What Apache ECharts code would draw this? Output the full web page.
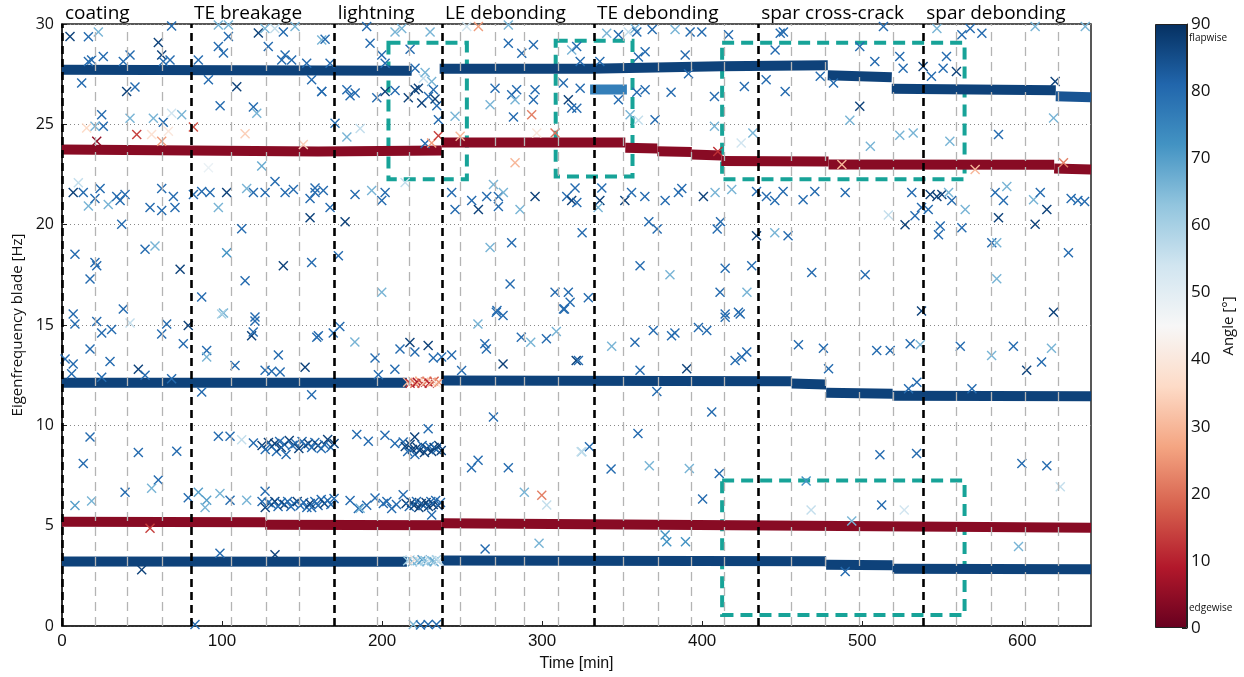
<!DOCTYPE html>
<html>
<head>
<meta charset="utf-8">
<script src="https://cdn.jsdelivr.net/npm/echarts@6/dist/echarts.min.js"></script>
<style>html,body{margin:0;padding:0;background:#fff;}#chart{width:1244px;height:677px;}</style>
</head>
<body>
<div id="chart"></div>
<script>
// ---------------- DATA ----------------
const eventTimes = [0, 80.6, 170.4, 237.4, 332.5, 435, 538.2];
const eventNames = ['coating', 'TE breakage', 'lightning', 'LE debonding', 'TE debonding', 'spar cross-crack', 'spar debonding'];
const gridTimes = [20.6, 41, 62.5, 106, 127.5, 148, 197, 217, 249, 270.6, 289, 310, 351, 372.5, 393.5, 414, 456, 477, 498, 519.5, 559, 580.6, 602, 622.5];
// highlighted boxes: [t0, f0, t1, f1]
const boxes = [[204, 22.26, 253, 29.06], [308.5, 22.4, 356.5, 29.16], [412.5, 22.26, 564, 29.06], [412.5, 0.55, 564, 7.25]];
const colorTicks = [0, 10, 20, 30, 40, 50, 60, 70, 80, 90];

// dense mode tracks: [angle, [[time, freq], ...]]
const bandFlap2 = [
  [87, [[0, 27.72], [218.5, 27.67]]],
  [87, [[236, 27.77], [330, 27.77], [412, 27.9], [478.5, 27.95]]],
  [87, [[478.5, 27.45], [518.5, 27.35]]],
  [87, [[518.5, 26.77], [621, 26.7]]],
  [84, [[621, 26.4], [643, 26.35]]],
  [76, [[330, 26.73], [353, 26.73]]]
];
const bandEdge2 = [
  [4, [[0, 23.75], [160, 23.65], [237.3, 23.7]]],
  [4, [[237.3, 24.1], [352, 24.1]]],
  [4, [[352, 23.83], [372, 23.8]]],
  [4, [[372, 23.66], [393.5, 23.62]]],
  [4, [[393.5, 23.5], [412, 23.45]]],
  [4, [[412, 23.17], [479, 23.15]]],
  [4, [[479, 23.0], [620, 22.98]]],
  [4, [[620, 22.8], [643, 22.75]]]
];
const bandFlap1b = [
  [87, [[0, 12.12], [215.5, 12.12]]],
  [87, [[237.3, 12.24], [456, 12.2]]],
  [87, [[456, 12.08], [477.5, 12.03]]],
  [87, [[477.5, 11.62], [519, 11.57]]],
  [87, [[519, 11.48], [643, 11.45]]]
];
const bandEdge1 = [
  [4, [[0, 5.2], [127, 5.17]]],
  [4, [[127, 5.05], [237.3, 5.02]]],
  [4, [[237.3, 5.12], [420, 5.02], [643, 4.9]]]
];
const bandFlap1 = [
  [87, [[0, 3.21], [215.5, 3.2]]],
  [87, [[237.3, 3.26], [477.5, 3.23]]],
  [87, [[477.5, 3.05], [519, 3.03]]],
  [87, [[519, 2.85], [643, 2.83]]]
];

// individual detections: [time, freq, angle]
const points = [
[5,29.38,87],[16.5,29.36,80],[22.7,29.6,66],[68.5,29.9,80],[60.2,29.08,87],[42.5,28.46,80],[25.8,28.38,80],[16.5,28.13,80],[18.5,28.2,80],[38.3,28.13,80],[62.3,28.46,87],[63.3,28.13,80],[67.5,28.2,80],[12.3,27.06,80],[40.4,26.64,87],[45.6,26.86,80],[24.8,25.48,80],[25.8,24.9,80],[20.6,24.9,66],[42.5,25.3,66],[57.1,25.3,66],[63.3,25.1,80],[68.5,25.55,54],[74.8,25.48,66],[15.4,24.82,36],[46.7,24.49,14],[56,24.49,38],[62.3,24.16,26],[66.5,24.65,40],[21.7,24.16,5],[82.1,24.87,16],[114.4,24.53,34],[150.8,24.0,34],[124.8,22.92,68],[91.5,22.84,48],[85.2,28.2,80],[97.7,28.88,80],[104,29.38,80],[100.9,28.55,80],[97.7,29.95,66],[104,29.95,66],[122.7,29.55,87],[126.8,29.78,66],[133,29.78,56],[138.3,29.6,80],[145.6,29.87,66],[128.9,28.88,80],[139.4,28.46,80],[137.3,28.2,80],[143.5,28.2,80],[152.9,28.05,80],[162.3,29.2,66],[109.2,26.87,87],[91.5,27.22,80],[156,27.22,80],[162.3,26.64,80],[98.8,25.93,80],[119.6,25.87,80],[121.7,25.55,66],
[10.2,22.09,56],[7,21.6,87],[13.3,21.6,80],[16.5,20.93,66],[20.6,21.3,80],[23.8,21.8,80],[28.9,21.0,66],[34.2,21.4,80],[36.3,21.2,80],[39.4,21.5,80],[62.3,21.8,80],[69.6,21.4,80],[70.6,20.85,80],[55,20.85,80],[62.3,20.7,80],[37.3,20.02,80],[8.1,18.53,80],[20.6,18.12,80],[21.7,17.95,80],[17.5,17.29,80],[51.9,18.78,80],[58.1,18.94,66],[73.8,17.78,87],[38.3,15.8,80],[7,15.55,80],[82.1,21.5,80],[87.3,21.65,80],[92.5,21.6,80],[97.7,20.85,66],[102.9,21.6,87],[115.4,21.8,66],[119.6,21.6,80],[126.9,21.6,80],[133.1,22.15,80],[139.4,21.6,80],[144.6,21.75,80],[155,21.3,80],[158.1,21.6,80],[155,20.35,87],[112.3,19.8,80],[102.9,18.6,72],[138.3,17.95,87],[156,18.12,80],[114.4,17.2,80],[87.3,16.4,80],[100.9,15.6,66],[120.6,15.4,80],
[8.1,15.05,80],[21.7,15.17,80],[24.8,14.6,80],[31,14.77,80],[42.5,15.1,56],[62.3,14.55,80],[65.4,15.05,80],[78.9,14.97,87],[75.8,14.06,80],[17.5,13.8,80],[1.9,13.3,80],[7,13.06,80],[6,12.57,80],[30,13.18,80],[24.8,12.4,80],[47.7,12.8,87],[51.9,12.5,80],[68.5,12.32,80],[90.4,13.73,80],[90.4,13.4,66],[108.1,12.98,80],[120.6,15.2,80],[118.5,14.47,87],[119.5,14.65,80],[135.2,13.5,80],[126.9,12.74,80],[131,12.7,80],[136.3,12.66,80],[151.9,12.9,87],[159.2,14.39,80],[87.3,11.66,80],[156,11.53,80],[99.8,15.55,60],[17.5,9.42,80],[13.3,8.1,80],[47.7,8.65,80],[71.7,8.71,80],[39.4,6.66,80],[60.2,7.27,80],[56,6.86,66],[8.1,6.0,70],[18.5,6.23,66],[78.9,6.39,80],[85.2,6.66,70],[90.4,6.27,70],[89.4,5.9,66],[98.7,6.6,66],[105,6.27,80],[115.4,6.27,66],[126.9,6.72,80],[55,4.87,14],[98.7,3.63,80],[133.1,3.55,87],[49.8,2.8,87],[156,5.9,80],[83.1,0.07,80],
[97.7,9.45,80],[105,9.45,80],[112.3,9.28,56],[119.6,9.12,80],
[125,9.0,87],[127,8.8,80],[129,9.15,87],[131,8.95,80],[133,9.1,87],[134,8.7,80],[136,9.2,80],[137,8.9,87],[139,9.05,80],[140,8.55,80],[142,9.25,87],[144,9.0,80],[146,9.1,80],[148,8.85,87],[150,9.2,80],[152,9.0,80],[154,9.1,87],[156,8.9,80],[158,9.15,80],[160,9.0,87],[162,8.85,80],[164,9.05,80],[166,9.3,87],[168,8.9,80],[170,9.1,87],
[125,6.2,80],[127,5.9,87],[129,6.15,80],[131,6.05,80],[133,6.2,87],[135,5.95,80],[137,6.15,80],[139,6.05,87],[141,6.2,80],[143,5.95,80],[145,6.1,80],[147,6.2,87],[149,6.0,80],[151,6.15,80],[153,5.9,80],[155,6.1,87],[158,6.2,80],[160,6.0,80],[162,6.3,80],[164,6.1,87],[166,6.25,80],[168,6.05,80],[170,6.35,80],
[180,6.26,80],[185.2,5.86,80],[186.3,5.87,66],[190.4,6.02,80],[195.6,6.38,80],[200.8,6.1,80],[206,5.86,80],[213.2,6.54,80],[203,6.2,80],[209,6.05,80],
[215,6.1,87],[217,5.95,80],[218.5,6.15,87],[220,6.0,87],[221.5,6.2,80],[223,5.9,87],[224.5,6.1,87],[226,6.0,80],[227.5,6.15,87],[229,5.95,87],[230.5,6.2,80],[232,6.05,87],[233.5,6.25,80],[235,6.0,87],[236.5,6.15,80],[231,5.53,80],
[184.2,9.54,80],[191.4,9.21,80],[201.8,9.5,80],[208,9.09,80],[213.2,9.17,80],[220.4,9.42,87],[228.8,9.83,80],
[214.5,8.95,87],[216,8.7,80],[217.5,9.05,87],[219,8.8,87],[220.5,8.55,80],[222,8.9,87],[223.5,8.75,87],[225,9.0,80],[226.5,8.65,87],[228,8.85,87],[229.5,8.95,80],[231,8.7,87],[232.5,8.9,87],[234,8.8,80],[235.5,9.0,87],[237,8.75,87],
[160.2,14.47,80],[169.5,14.6,80],[173.6,14.93,80],[183,14.15,66],[195.6,13.35,80],[197.7,12.52,80],[208,12.8,80],[211.2,13.8,80],[217.4,14.13,87],[220.5,13.65,80],[228.8,13.98,87],[232,13.35,80],[237.2,13.4,80],[243.5,13.51,80],[249.7,12.73,80],[259.9,15.05,66],[264.2,14.06,80],[265.2,13.8,80],[271.4,15.63,80],[275.6,15.47,80],[275.6,13.06,87],[287,14.39,80],[292.9,14.14,66],[302.7,14.31,80],[308.9,14.67,66],[314,15.8,80],[321.3,13.23,87],[269.6,10.42,80],[255.9,7.88,80],[260,8.26,80],[278.9,7.88,80],[288.9,6.66,66],[299.8,6.52,22],[302.9,6.03,56],[264.4,3.84,80],[298.1,4.12,66],[324.8,8.68,62],
[219.5,0.07,66],[224,0.05,80],[228.8,0.07,80],[234,0.07,80],
[216,12.15,30],[217.5,12.1,12],[219,12.2,35],[220.5,12.1,20],[222,12.15,8],[223.5,12.2,28],[225,12.1,15],[226.5,12.15,38],[228,12.2,22],[229.5,12.1,10],[231,12.15,32],[232.5,12.2,18],[234,12.1,40],[235.5,12.15,25],
[216,3.25,62],[217.5,3.3,55],[219,3.2,68],[220.5,3.3,40],[222,3.25,65],[223.5,3.2,58],[225,3.3,70],[226.5,3.25,60],[228,3.2,66],[229.5,3.3,52],[231,3.25,64],[232.5,3.2,68],[234,3.3,60],[235.5,3.25,55],
[164.4,29.24,80],[190.4,29.87,80],[192.5,29.04,80],[208.1,29.6,66],[212.3,29.78,66],[230,29.6,66],[199.8,28.46,80],[201.9,28.05,80],[167.5,28.05,80],[217.5,28.74,80],[220.6,27.8,80],[225.8,27.3,56],[226.9,27.58,66],[208.1,26.69,80],[162.3,26.64,80],[178,26.72,80],[183.2,26.56,80],[180,26.43,80],[196.7,26.32,80],[201.9,26.64,87],[216.4,26.32,87],[220.6,26.72,87],[224.8,26.06,87],[229,26.39,80],[232.1,26.72,80],[222.7,26.8,87],[231,27.14,66],[234.2,25.93,80],[233.1,26.26,87],[245.6,25.4,66],[235.2,25.23,80],[170.6,25.06,80],[178,24.37,66],[186.3,24.79,56],[226.9,24.04,80],[231,24.07,26],[235.2,24.43,14],[248.8,24.4,30],[260.2,29.87,26],[252.9,29.87,54],[278.9,29.95,66],[270.6,26.8,80],[267.5,25.97,66],[278.9,29.04,80],[281,26.47,80],[284.1,26.72,80],[283.1,26.23,66],[282.1,25.37,80],[287.3,28.54,80],[294.6,28.96,80],[295.6,26.72,80],[294.6,26.23,80],[293.5,25.48,22],[296.7,24.57,40],[283.1,23.08,30],[308.1,24.57,20],[318.5,28.71,66],[321.6,28.88,80],[313.3,27.06,80],[318.5,25.82,80],[316.4,26.23,87],
[158.1,21.83,80],[163.3,21.7,80],[167.5,20.85,80],[176.9,20.15,87],[172.7,18.45,80],[183.1,21.5,80],[193.5,21.7,66],[199.8,21.2,80],[201.9,21.6,80],[214.4,22.1,56],[199.8,16.63,66],[243.5,21.6,80],[245.6,20.76,80],[256,21.2,80],[260.2,20.76,87],[265.4,21.4,80],[269.6,22.0,66],[272.7,21.4,80],[272.7,20.9,80],[275.8,21.6,66],[286.2,20.76,66],[295.6,21.4,87],[315.4,21.4,80],[318.5,21.2,87],[267.5,18.86,66],[281,19.1,80],[280,17.04,80],[308.1,16.63,80],[316.4,16.63,80],[317.5,16.13,80],[313.3,15.8,80],[271.8,15.72,80],
[340.4,29.54,66],[347.7,29.46,80],[353.9,29.6,56],[358.1,29.78,66],[359.2,29.6,80],[368.8,29.73,80],[383.1,29.73,66],[392.5,29.6,80],[399.8,29.6,80],[416.5,29.46,80],[448.8,29.54,80],[450.8,29.6,80],[445.6,28.71,80],[364.4,28.62,80],[360.2,28.35,80],[323.8,28.13,80],[336.1,28.13,80],[389.4,28.46,80],[391.5,27.52,80],[323.8,26.8,80],[347.7,26.23,80],[359.2,26.6,80],[364.4,26.72,80],[380.6,26.6,80],[407.7,26.39,80],[426.4,26.89,80],[440,27.22,80],[451.9,26.64,80],[473.8,27.39,80],[482.1,27.06,80],[321.7,25.8,80],[370.6,25.23,80],[360.2,25.2,56],[355,25.48,66],[407.7,24.9,66],[431.7,24.57,66],[424.4,24.07,54],[409.8,23.65,12],[487.3,23.0,30],
[320.6,21.83,80],[321.7,21.1,80],[337.3,21.83,80],[336.1,21.2,87],[335,20.85,66],[351.7,21.2,87],[355.9,21.6,80],[364.2,21.4,80],[376.9,21.2,80],[385.2,21.6,80],[387.3,21.8,80],[400.8,21.4,87],[408.1,21.6,66],[418.5,21.75,66],[434,21.65,80],[440.2,21.4,80],[445.4,21.2,80],[450.6,21.65,80],[463.1,21.24,80],[470.4,21.65,80],[325,19.6,80],[366.7,20.15,80],[371.9,19.79,80],[411.5,20.15,80],[409.4,19.78,80],[434,19.45,87],[445.4,19.6,66],[453.7,19.45,80],[361.2,17.95,80],[379.9,17.5,66],[414.4,17.83,80],[431,17.95,80],[468.5,17.62,80],[328.9,16.36,80],[411.2,16.63,80],[428,16.63,66],[414.4,15.55,80],[422.7,15.63,80],
[513.3,29.87,80],[546.7,29.78,66],[562.3,29.46,80],[567.5,29.78,80],[574.8,29.54,80],[608.1,29.87,66],[639.4,29.87,66],[498.5,28.88,80],[507.9,28.13,80],[523.5,28.38,80],[525.6,27.8,80],[538.1,27.88,87],[543.3,27.39,80],[550.6,27.8,80],[552.7,28.38,80],[558.9,27.63,87],[620.6,27.14,87],[619.6,25.32,66],[498.5,25.9,87],[492.3,25.2,66],[523.5,24.45,66],[531.9,24.57,66],[554.8,24.16,66],[505.1,23.91,66],[585.2,24.49,80],[570.6,22.75,30],[625.8,23.08,22],
[489.4,21.6,80],[531,21.6,80],[542.5,21.5,87],[546.7,21.4,87],[549.8,21.5,87],[554,21.6,66],[556,21.2,80],[537.1,20.85,80],[541.3,20.75,80],[533,20.45,80],[526.8,20.0,87],[564.4,20.75,66],[516.4,20.48,56],[562.3,19.85,80],[548.8,19.93,80],[547.7,19.5,80],[583.1,21.6,80],[588.3,21.2,80],[590.4,21.9,66],[585.2,20.35,87],[607.1,21.24,66],[611.3,21.6,80],[615.4,20.76,87],[630.6,21.3,80],[634.8,21.2,80],[639,21.15,80],[608.1,20.02,87],[581,19.1,80],[584.1,19.1,66],[628.9,18.6,80],[501.9,17.5,80],[584.1,17.31,66],[537.1,15.7,87],[619.6,15.64,87],
[322.7,13.23,80],[343.5,13.94,66],[358,14.14,80],[369.5,14.72,80],[380.9,14.47,80],[383,14.6,80],[397.7,14.88,80],[402.9,14.72,80],[414.4,15.38,80],[423.8,15.55,80],[361.2,12.74,80],[390.4,12.82,87],[420.6,13.23,80],[424.8,13.4,80],[427.9,13.65,80],[371.7,11.69,80],[406,10.66,80],[460.2,14.01,80],[475.8,13.84,80],[479,12.82,80],[359.9,9.59,80],[324.4,8.68,56],[329.6,8.93,80],[343.1,7.82,80],[367,7.98,66],[392,7.85,66],[410.7,7.6,80],[400.3,6.33,80],[465,7.22,72],[468.1,5.78,56],[376.9,4.54,72],[377.9,4.2,72],[389.6,4.2,72],
[509.1,13.73,80],[517.5,13.73,80],[530,14.06,80],[536.3,14.01,66],[561.3,13.94,80],[580.9,13.48,66],[594.5,13.94,80],[602.8,12.74,87],[612.1,13.15,80],[618.3,13.84,66],[529,11.82,80],[534.2,12.15,80],[568.6,11.82,80],[511.1,8.54,80],[534,8.6,80],[599.8,8.1,80],[615.4,7.98,80],[623.8,6.94,56],[512.2,6.03,80],[526.3,5.78,54],[493.5,5.23,66],[597.7,3.96,66],[489.4,2.72,80]
];

// ---------------- STYLE ----------------
const RdBu = ['#67001f', '#b2182b', '#d6604d', '#f4a582', '#fddbc7', '#f7f7f7', '#d1e5f0', '#92c5de', '#4393c3', '#2166ac', '#053061'];
function hex(c) { return [parseInt(c.slice(1, 3), 16), parseInt(c.slice(3, 5), 16), parseInt(c.slice(5, 7), 16)]; }
function cmap(a) {
  const p = Math.max(0, Math.min(1, a / 90)) * (RdBu.length - 1);
  const i = Math.min(RdBu.length - 2, Math.floor(p)), t = p - i;
  const c0 = hex(RdBu[i]), c1 = hex(RdBu[i + 1]);
  return 'rgb(' + c0.map((v, k) => Math.round(v + (c1[k] - v) * t)).join(',') + ')';
}
const XSYM = 'path://M0,1 L1,0 L5,4 L9,0 L10,1 L6,5 L10,9 L9,10 L5,6 L1,10 L0,9 L4,5 Z';
const tickFont = "'Liberation Sans Narrow', 'Liberation Sans', sans-serif";
const textFont = "'Open Sans', 'Liberation Sans', sans-serif";

const chart = echarts.init(document.getElementById('chart'), null, { renderer: 'canvas' });

const bandSeries = [];
[bandFlap2, bandEdge2, bandFlap1b, bandEdge1, bandFlap1].forEach(band => {
  band.forEach(seg => {
    bandSeries.push({
      type: 'line', xAxisIndex: 0, yAxisIndex: 0, data: seg[1], symbol: 'none', silent: true,
      lineStyle: { width: 10, color: cmap(seg[0]), cap: 'butt', join: 'miter' }, z: 3
    });
  });
});

const markSeries = {
  type: 'scatter', xAxisIndex: 0, yAxisIndex: 0, data: [], symbolSize: 0, silent: true, z: 5,
  markLine: {
    silent: true, symbol: ['none', 'none'], animation: false,
    data: gridTimes.map(t => ({ xAxis: t, lineStyle: { color: '#b4b4b4', width: 1.3, type: [9, 6] }, label: { show: false } }))
      .concat(eventTimes.map((t, i) => ({
        xAxis: t, name: eventNames[i],
        lineStyle: { color: '#000', width: 2.6, type: [8, 5] },
        label: { show: true, position: 'end', formatter: '{b}', align: 'left', color: '#000', fontSize: 19, fontFamily: textFont, distance: 1, padding: [0, 0, 0, 3] }
      })))
  },
  markArea: {
    silent: true,
    itemStyle: { color: 'rgba(0,0,0,0)', borderColor: '#17a398', borderWidth: 4, borderType: [12, 7] },
    data: boxes.map(b => [{ coord: [b[0], b[3]] }, { coord: [b[2], b[1]] }])
  }
};

const option = {
  animation: false,
  backgroundColor: '#fff',
  grid: [
    { left: 62, right: 153, top: 24, bottom: 49, show: true, borderColor: '#222', borderWidth: 1.5, backgroundColor: 'rgba(0,0,0,0)' },
    { left: 1155, width: 32, top: 24, height: 604 }
  ],
  xAxis: [
    {
      type: 'value', min: 0, max: 643, interval: 100, gridIndex: 0,
      axisLine: { lineStyle: { color: '#222', width: 1.5 } },
      axisTick: { inside: true, length: 5, lineStyle: { color: '#222' } },
      axisLabel: { fontSize: 17, color: '#111', fontFamily: tickFont, margin: 7, showMaxLabel: false },
      splitLine: { show: false },
      name: 'Time [min]', nameLocation: 'middle', nameGap: 30,
      nameTextStyle: { fontSize: 16, color: '#111', fontFamily: tickFont }
    },
    { type: 'category', gridIndex: 1, data: ['c'], show: false }
  ],
  yAxis: [
    {
      type: 'value', min: 0, max: 30, interval: 5, gridIndex: 0,
      axisLine: { lineStyle: { color: '#222', width: 1.5 } },
      axisTick: { inside: true, length: 5, lineStyle: { color: '#222' } },
      axisLabel: { fontSize: 16, color: '#111', fontFamily: textFont, margin: 8 },
      splitLine: { show: true, lineStyle: { color: '#888', width: 1, type: [1, 3] } },
      name: 'Eigenfrequency blade [Hz]', nameLocation: 'middle', nameGap: 27,
      nameTextStyle: { fontSize: 15, color: '#111', fontFamily: textFont }
    },
    {
      type: 'value', min: 0, max: 90, interval: 10, gridIndex: 1, position: 'right',
      axisLine: { show: true, lineStyle: { color: '#222', width: 1 } },
      axisTick: { show: true, inside: true, length: 5, lineStyle: { color: '#222' } },
      axisLabel: { fontSize: 17, color: '#111', fontFamily: textFont, margin: 4, formatter: v => colorTicks.indexOf(v) >= 0 ? String(v) : '' },
      splitLine: { show: false },
      name: 'Angle [°]', nameLocation: 'middle', nameGap: 34, nameRotate: 90,
      nameTextStyle: { fontSize: 15, color: '#111', fontFamily: textFont }
    }
  ],
  visualMap: {
    type: 'continuous', show: false, min: 0, max: 90, dimension: 2, seriesIndex: bandSeries.length + 1,
    inRange: { color: RdBu }
  },
  graphic: [
    { type: 'text', left: 1189, top: 33, style: { text: 'flapwise', fontSize: 10, fill: '#111', fontFamily: textFont } },
    { type: 'text', left: 1189, top: 603, style: { text: 'edgewise', fontSize: 10, fill: '#111', fontFamily: textFont } }
  ],
  series: bandSeries.concat([
    markSeries,
    {
      type: 'scatter', xAxisIndex: 0, yAxisIndex: 0, data: points, symbol: XSYM, symbolSize: 10, silent: true, z: 4,
      itemStyle: { opacity: 1 }
    },
    {
      type: 'bar', xAxisIndex: 1, yAxisIndex: 1, data: [90], barWidth: '100%', silent: true,
      itemStyle: {
        borderColor: '#222', borderWidth: 1,
        color: new echarts.graphic.LinearGradient(0, 1, 0, 0, RdBu.map((c, i) => ({ offset: i / (RdBu.length - 1), color: c })))
      }
    }
  ])
};
chart.setOption(option);
</script>
</body>
</html>
